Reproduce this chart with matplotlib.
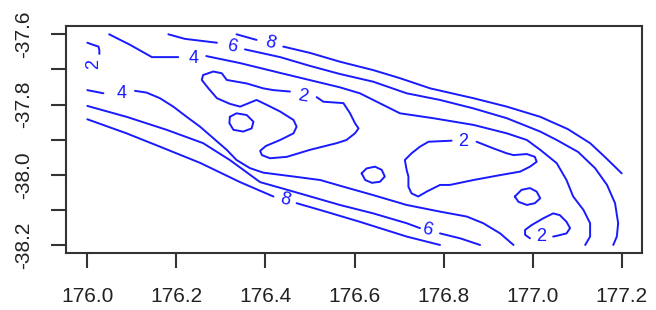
import matplotlib
matplotlib.use('Agg')
import matplotlib.pyplot as plt

plt.rcParams['font.family'] = ['Liberation Sans', 'DejaVu Sans']

# contour pieces (lon, lat); lines are broken where labels sit
# level 2
c2_nw_lon = [176.000, 176.013, 176.025, 176.027, 176.027]
c2_nw_lat = [-37.624, -37.630, -37.635, -37.645, -37.656]

c2_big_lon = [176.515, 176.530, 176.575, 176.590, 176.601, 176.609, 176.601, 176.582, 176.560,
              176.500, 176.448, 176.410, 176.392, 176.388, 176.401, 176.433, 176.463, 176.470,
              176.463, 176.433, 176.403, 176.380, 176.343, 176.320, 176.291, 176.272, 176.257,
              176.260, 176.283, 176.302, 176.313, 176.358, 176.395, 176.418, 176.455]
c2_big_lat = [-37.779, -37.792, -37.796, -37.825, -37.853, -37.868, -37.882, -37.901, -37.910,
              -37.929, -37.949, -37.953, -37.944, -37.932, -37.918, -37.901, -37.882, -37.863,
              -37.844, -37.820, -37.801, -37.787, -37.806, -37.798, -37.782, -37.754, -37.730,
              -37.716, -37.706, -37.711, -37.730, -37.740, -37.754, -37.759, -37.763]

c2_loop1_lon = [176.320, 176.335, 176.358, 176.373, 176.369, 176.350, 176.328, 176.319, 176.320]
c2_loop1_lat = [-37.835, -37.825, -37.830, -37.849, -37.868, -37.877, -37.872, -37.853, -37.835]

c2_east_lon = [176.874, 176.912, 176.942, 176.957, 176.987, 177.005, 177.009, 176.994, 176.972,
               176.927, 176.867, 176.814, 176.792, 176.762, 176.743, 176.728, 176.721, 176.721,
               176.717, 176.713, 176.728, 176.747, 176.766, 176.818]
c2_east_lat = [-37.906, -37.925, -37.939, -37.944, -37.941, -37.949, -37.963, -37.977, -37.991,
               -38.001, -38.015, -38.029, -38.029, -38.048, -38.062, -38.053, -38.034, -38.005,
               -37.986, -37.958, -37.939, -37.920, -37.906, -37.903]

c2_loop2_lon = [176.616, 176.627, 176.646, 176.661, 176.668, 176.657, 176.639, 176.624, 176.616]
c2_loop2_lat = [-37.996, -37.982, -37.977, -37.986, -38.005, -38.020, -38.023, -38.015, -37.996]

c2_loop3_lon = [176.960, 176.975, 176.994, 177.009, 177.017, 177.005, 176.987, 176.968, 176.960]
c2_loop3_lat = [-38.062, -38.043, -38.038, -38.048, -38.067, -38.081, -38.086, -38.077, -38.062]

c2_south_lon = [177.046, 177.054, 177.076, 177.084, 177.076, 177.061, 177.046, 177.024, 176.998,
                176.983, 176.983, 176.994]
c2_south_lat = [-38.176, -38.174, -38.167, -38.152, -38.134, -38.115, -38.110, -38.124, -38.143,
                -38.157, -38.171, -38.181]

# level 4
c4_n1_lon = [176.049, 176.096, 176.145, 176.204]
c4_n1_lat = [-37.600, -37.630, -37.665, -37.665]
c4_n2_lon = [176.267, 176.343, 176.433, 176.567, 176.612, 176.702, 176.777, 176.867, 176.942,
             176.987, 177.017, 177.054, 177.076, 177.091, 177.114, 177.129, 177.129, 177.118]
c4_n2_lat = [-37.662, -37.682, -37.710, -37.751, -37.768, -37.825, -37.839, -37.858, -37.882,
             -37.901, -37.929, -37.967, -38.015, -38.062, -38.100, -38.138, -38.176, -38.200]
c4_s1_lon = [176.000, 176.036]
c4_s1_lat = [-37.759, -37.768]
c4_s2_lon = [176.107, 176.133, 176.163, 176.193, 176.223, 176.253, 176.283, 176.313, 176.335,
             176.365, 176.395, 176.463, 176.523, 176.575, 176.642, 176.717, 176.792, 176.852,
             176.889, 176.927, 176.957]
c4_s2_lat = [-37.761, -37.766, -37.782, -37.806, -37.835, -37.863, -37.896, -37.929, -37.958,
             -37.981, -37.994, -38.005, -38.015, -38.034, -38.058, -38.086, -38.105, -38.119,
             -38.138, -38.167, -38.200]

# level 6
c6_n1_lon = [176.182, 176.219, 176.291]
c6_n1_lat = [-37.600, -37.613, -37.624]
c6_n2_lon = [176.354, 176.433, 176.500, 176.567, 176.642, 176.717, 176.792, 176.867, 176.942,
             177.017, 177.054, 177.102, 177.140, 177.167, 177.185, 177.192, 177.189, 177.181]
c6_n2_lat = [-37.643, -37.665, -37.690, -37.713, -37.735, -37.768, -37.787, -37.811, -37.839,
             -37.877, -37.901, -37.935, -37.981, -38.029, -38.081, -38.138, -38.176, -38.200]
c6_s1_lon = [176.000, 176.088, 176.178, 176.260, 176.320, 176.388, 176.463, 176.567, 176.642,
             176.717, 176.747]
c6_s1_lat = [-37.804, -37.835, -37.872, -37.910, -37.958, -38.021, -38.048, -38.086, -38.110,
             -38.138, -38.152]
c6_s2_lon = [176.792, 176.837, 176.882]
c6_s2_lat = [-38.167, -38.181, -38.200]

# level 8
c8_n1_lon = [176.335, 176.380]
c8_n1_lat = [-37.600, -37.616]
c8_n2_lon = [176.440, 176.500, 176.567, 176.642, 176.702, 176.770, 176.867, 176.942, 177.017,
             177.079, 177.129, 177.162, 177.200]
c8_n2_lat = [-37.635, -37.653, -37.678, -37.702, -37.725, -37.754, -37.782, -37.806, -37.835,
             -37.870, -37.910, -37.949, -37.996]
c8_s1_lon = [176.000, 176.088, 176.163, 176.253, 176.343, 176.418]
c8_s1_lat = [-37.842, -37.882, -37.920, -37.966, -38.021, -38.062]
c8_s2_lon = [176.470, 176.538, 176.612, 176.717, 176.792]
c8_s2_lat = [-38.081, -38.106, -38.134, -38.176, -38.200]

pieces = [
    (c2_nw_lon, c2_nw_lat), (c2_big_lon, c2_big_lat), (c2_loop1_lon, c2_loop1_lat),
    (c2_east_lon, c2_east_lat), (c2_loop2_lon, c2_loop2_lat), (c2_loop3_lon, c2_loop3_lat),
    (c2_south_lon, c2_south_lat),
    (c4_n1_lon, c4_n1_lat), (c4_n2_lon, c4_n2_lat), (c4_s1_lon, c4_s1_lat), (c4_s2_lon, c4_s2_lat),
    (c6_n1_lon, c6_n1_lat), (c6_n2_lon, c6_n2_lat), (c6_s1_lon, c6_s1_lat), (c6_s2_lon, c6_s2_lat),
    (c8_n1_lon, c8_n1_lat), (c8_n2_lon, c8_n2_lat), (c8_s1_lon, c8_s1_lat), (c8_s2_lon, c8_s2_lat),
]

# contour labels
label_text = ['2', '2', '2', '2', '4', '4', '6', '6', '8', '8']
label_lon = [176.015, 176.485, 176.844, 177.020, 176.238, 176.077, 176.324, 176.762, 176.410, 176.444]
label_lat = [-37.685, -37.778, -37.906, -38.176, -37.668, -37.768, -37.635, -38.157, -37.626, -38.072]
label_angle = [90, -10, 0, 0, 0, 0, -12, -14, -16, -14]

x_ticks = [176.0, 176.2, 176.4, 176.6, 176.8, 177.0, 177.2]
y_ticks = [-37.6, -37.7, -37.8, -37.9, -38.0, -38.1, -38.2]
y_ticklabels = ['-37.6', '', '-37.8', '', '-38.0', '', '-38.2']

fig = plt.figure(figsize=(6.56, 3.10), dpi=100)
ax = fig.add_axes([0.1002, 0.1839, 0.8785, 0.7322])

line_color = '#1a1aff'
for lon, lat in pieces:
    ax.plot(lon, lat, color=line_color, lw=1.4, solid_joinstyle='round', solid_capstyle='round')

for t, x, y, a in zip(label_text, label_lon, label_lat, label_angle):
    ax.text(x, y, t, color=line_color, fontsize=13, rotation=a,
            ha='center', va='center', rotation_mode='anchor')

ax.set_xlim(175.9515, 177.2456)
ax.set_ylim(-38.2228, -37.5764)
ax.set_xticks(x_ticks)
ax.set_xticklabels([f'{v:.1f}' for v in x_ticks])
ax.set_yticks(y_ticks)
ax.set_yticklabels(y_ticklabels)

for s in ax.spines.values():
    s.set_linewidth(1.5)
    s.set_color('#333333')
ax.tick_params(length=10.5, width=1.5, color='#333333', labelsize=15, labelcolor='#222222')
ax.tick_params(axis='x', pad=14)
ax.tick_params(axis='y', pad=13)
for lbl in ax.get_yticklabels():
    lbl.set_rotation(90)
    lbl.set_va('center')

fig.savefig('out.png', dpi=100)
